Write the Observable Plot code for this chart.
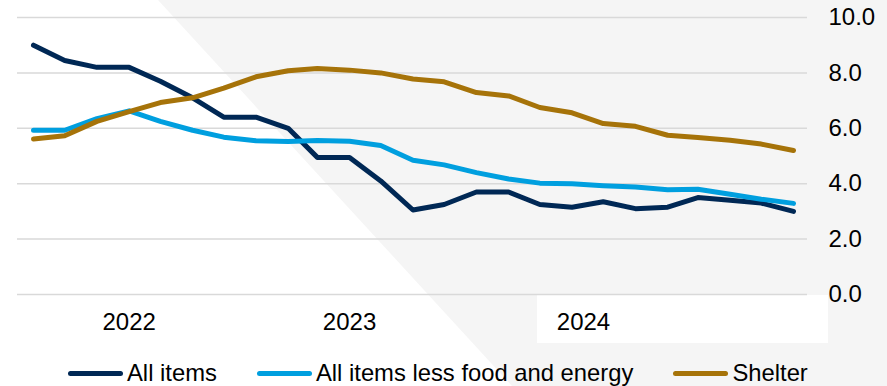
<!DOCTYPE html>
<html>
<head>
<meta charset="utf-8">
<script src="https://cdn.jsdelivr.net/npm/d3@7"></script>
<script src="https://cdn.jsdelivr.net/npm/@observablehq/plot@0.6"></script>
<style>
  html, body { margin: 0; padding: 0; background: #ffffff; }
  body { width: 887px; height: 386px; position: relative; overflow: hidden; font-family: "Liberation Sans", Arial, sans-serif; }
  #bg { position: absolute; left: 0; top: 0; width: 887px; height: 386px; background: #f5f5f5;
        clip-path: polygon(158px 0, 887px 0, 887px 386px, 512px 386px); }
  #box { position: absolute; left: 537px; top: 295px; width: 291px; height: 48px; background: #ffffff; }
  #chart { position: absolute; left: 0; top: 0; }
  #legend { position: absolute; left: 68px; top: 359px; height: 28px; display: flex; align-items: center; font-size: 23.8px; color: #000; white-space: nowrap; }
  .item { display: flex; align-items: center; }
  .sw { width: 55px; height: 5px; border-radius: 3px; margin-right: 4px; }
</style>
</head>
<body>
<div id="bg"></div>
<div id="box"></div>
<div id="chart"></div>
<div id="legend"></div>
<script>
const months = ["2022-06","2022-07","2022-08","2022-09","2022-10","2022-11","2022-12",
  "2023-01","2023-02","2023-03","2023-04","2023-05","2023-06","2023-07","2023-08","2023-09","2023-10","2023-11","2023-12",
  "2024-01","2024-02","2024-03","2024-04","2024-05","2024-06"];
const allItems = [9.0, 8.45, 8.2, 8.2, 7.7, 7.1, 6.4, 6.4, 6.0, 4.95, 4.95, 4.1, 3.05, 3.25, 3.7, 3.7, 3.25, 3.15, 3.35, 3.1, 3.15, 3.5, 3.4, 3.3, 3.0];
const core = [5.93, 5.93, 6.35, 6.63, 6.25, 5.93, 5.68, 5.55, 5.52, 5.56, 5.53, 5.38, 4.85, 4.68, 4.4, 4.17, 4.02, 4.0, 3.93, 3.88, 3.78, 3.8, 3.62, 3.44, 3.29];
const shelter = [5.61, 5.73, 6.25, 6.6, 6.93, 7.1, 7.45, 7.86, 8.08, 8.16, 8.1, 8.0, 7.78, 7.68, 7.29, 7.17, 6.75, 6.56, 6.17, 6.07, 5.75, 5.67, 5.57, 5.43, 5.2];
const seriesNames = ["All items", "All items less food and energy", "Shelter"];
const seriesColors = ["#002855", "#009fdf", "#a67309"];
const yTicks = [0, 2, 4, 6, 8, 10];
const yearLabels = ["2022", "2023", "2024"];
const yearLabelDates = ["2022-09-01", "2023-04-01", "2023-11-12"];

const parse = d3.utcParse("%Y-%m");
const seriesValues = [allItems, core, shelter];
const data = [];
seriesNames.forEach((name, s) => {
  months.forEach((m, i) => data.push({series: name, date: parse(m), value: seriesValues[s][i]}));
});
const yearData = yearLabels.map((t, i) => ({text: t, date: d3.utcParse("%Y-%m-%d")(yearLabelDates[i])}));

const plot = Plot.plot({
  width: 887,
  height: 350,
  marginLeft: 17,
  marginRight: 80,
  marginTop: 17,
  marginBottom: 56,
  style: { background: "transparent", fontFamily: "'Liberation Sans', Arial, sans-serif", fontSize: "24px", color: "#000" },
  x: { type: "utc", domain: [parse(months[0]), parse(months[months.length - 1])], insetLeft: 16, insetRight: 14, axis: null },
  y: { domain: [0, 10], axis: null },
  color: { domain: seriesNames, range: seriesColors },
  marks: [
    Plot.ruleY(yTicks, { stroke: "#d9d9d9", strokeWidth: 1.5 }),
    Plot.axisY({ anchor: "right", ticks: yTicks, tickSize: 0, tickPadding: 21, tickFormat: d3.format(".1f"), fontSize: 24, textAnchor: "start", fill: "#000", label: null }),
    Plot.line(data, { x: "date", y: "value", z: "series", stroke: "series", strokeWidth: 5, strokeLinejoin: "round", strokeLinecap: "round" }),
    Plot.text(yearData, { x: "date", text: "text", frameAnchor: "bottom", dy: 28, lineAnchor: "middle", fontSize: 24, fill: "#000" })
  ]
});
document.getElementById("chart").appendChild(plot);

const legend = document.getElementById("legend");
seriesNames.forEach((name, i) => {
  const item = document.createElement("div");
  item.className = "item";
  if (i > 0) item.style.marginLeft = "40px";
  const sw = document.createElement("div");
  sw.className = "sw";
  sw.style.background = seriesColors[i];
  const label = document.createElement("span");
  label.textContent = name;
  item.appendChild(sw);
  item.appendChild(label);
  legend.appendChild(item);
});
</script>
</body>
</html>
